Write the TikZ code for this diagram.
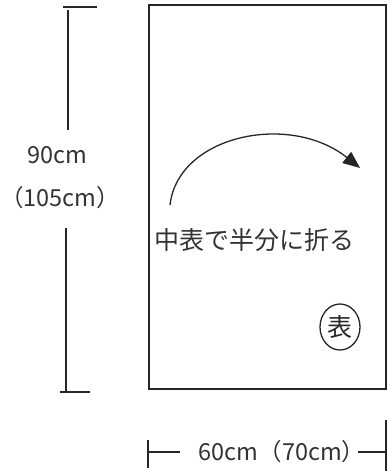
\documentclass[tikz,border=0pt]{standalone}
\usepackage{fontspec}
\setmainfont{Noto Sans CJK JP}
\usepackage{tikz}
\usetikzlibrary{arrows.meta,positioning,shapes.geometric}

\begin{document}
\begin{tikzpicture}[x=1pt, y=-1pt,
    dimline/.style={line width=1.4pt, black!85},
    sheet/.style={line width=2pt, black!85},
    dimtext/.style={inner sep=1pt, font=\fontsize{23.5}{28}\selectfont, text=black!80},
    notetext/.style={inner sep=1pt, font=\fontsize{25}{30}\selectfont, text=black!80}]
                	\useasboundingbox (0,0) rectangle (388,471);
                	% cloth
                	\draw[sheet] (149,5) rectangle (386,389);
                	
                	% height
                	\node[dimtext] (v90) at (57,155) {90cm};
                	\node[dimtext] (v105) at (60,198) {（105cm）};
                	\coordinate (vtopA) at (63,7);
                	\coordinate (vtopB) at (97,7);
                	\coordinate (vtop) at (68,10);
                	\coordinate (vtopend) at (68,130);
                	\coordinate (vbotstart) at (66,228);
                	\coordinate (vbot) at (66,392);
                	\coordinate (vbotA) at (60,392);
                	\coordinate (vbotB) at (90,392);
                	\path [dimline]
                		(vtopA) edge (vtopB)
                		(vtop) edge (vtopend)
                		(vbotstart) edge (vbot)
                		(vbotA) edge (vbotB)
                	;
                	
                	% width
                	\node[dimtext] (w60) at (282,452) {60cm（70cm）};
                	\coordinate (wleftA) at (148,440);
                	\coordinate (wleftB) at (148,468);
                	\coordinate (wleft) at (148,452);
                	\coordinate (wleftend) at (180,452);
                	\coordinate (wright) at (386,452);
                	\coordinate (wrightA) at (386,420);
                	\coordinate (wrightB) at (386,471);
                	\path [dimline]
                		(wleftA) edge (wleftB)
                		(wleft) edge (wleftend)
                		([xshift=-9pt]w60.east) edge (wright)
                		(wrightA) edge (wrightB)
                	;
                	
                	% fold note
                	\coordinate (foldA) at (170,205);
                	\coordinate (foldB) at (360,168);
                	\draw[line width=1.3pt, black!85, -{Triangle[length=17pt, width=14pt]}]
                		(foldA) .. controls (178,135) and (290,112) .. (foldB);
                	\node[notetext] (fold) at (254,240) {中表で半分に折る};
                	\node[draw, ellipse, line width=1.3pt, black!85, inner sep=0pt,
                		minimum width=40pt, minimum height=46pt,
                		font=\fontsize{25}{30}\selectfont] (face) at (340,327) {表};
                \end{tikzpicture}
\end{document}
